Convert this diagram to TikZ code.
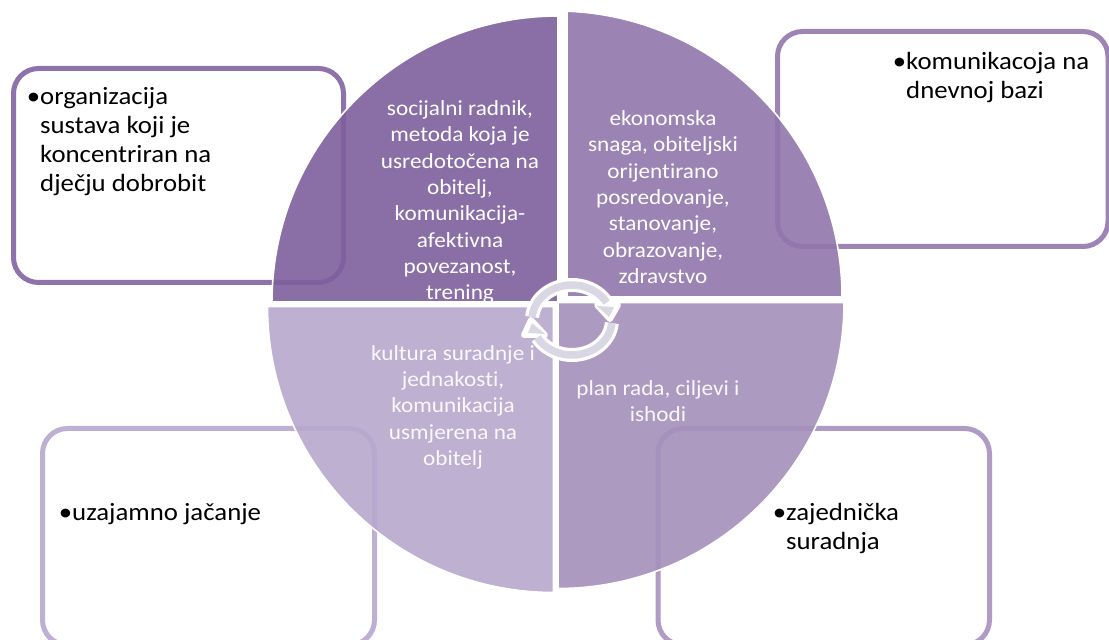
\documentclass[tikz,border=0pt]{standalone}
\usepackage{fontspec}
\setmainfont[FakeStretch=1.08,Ligatures=NoCommon]{Carlito}
\definecolor{boxa}{HTML}{8E73AB}
\definecolor{boxb}{HTML}{9D84B5}
\definecolor{boxc}{HTML}{BEB0D2}
\definecolor{boxd}{HTML}{AF9BC4}
\definecolor{pa}{HTML}{7E609E}
\definecolor{pb}{HTML}{9176AC}
\definecolor{pc}{HTML}{B7A8CD}
\definecolor{pd}{HTML}{A590BB}
\definecolor{ringgray}{HTML}{DAD7E5}
\tikzset{
  panel/.style={draw=#1,line width=5pt,rounded corners=25pt,fill=white},
  sector/.style={fill=#1,fill opacity=.9,draw=white,line width=1.6pt},
  inner/.style={text=white,inner sep=0pt,align=center,anchor=north,font=\fontsize{21.5}{26.3}\selectfont},
  outer/.style={text=black,inner sep=0pt,align=left,anchor=north west,font=\fontsize{24.8}{29}\selectfont},
  ringhalo/.style={draw=white,line width=14pt,line join=round},
  ringband/.style={draw=ringgray,line width=7.5pt},
  headhalo/.style={fill=white,draw=white,line width=6pt,line join=round},
  headfill/.style={fill=ringgray}
}
\begin{document}
\begin{tikzpicture}[x=1pt,y=1pt]
\useasboundingbox (0,0) rectangle (1109,640);
\clip (0,0) rectangle (1109,640);
\fill[white] (0,0) rectangle (1109,640);
% boxes
\draw[panel=boxa] (13.5,571.5) rectangle (343.5,357.5);
\draw[panel=boxb] (777.5,608.5) rectangle (1108,393.5);
\draw[panel=boxc] (42.5,211.5) rectangle (374.5,-5);
\draw[panel=boxd] (658,211.5) rectangle (989.5,-5);
% sectors
\path[sector=pa] (558,338) -- (272,338) arc[start angle=180,end angle=90,radius=286] -- cycle;
\path[sector=pb] (567,343) -- (567,628.8) arc[start angle=87.8,end angle=0,radius=286] -- cycle;
\path[sector=pc] (553.5,333.5) -- (267.5,333.5) arc[start angle=180,end angle=270,radius=286] -- cycle;
\path[sector=pd] (558,337.5) -- (558,51.5) arc[start angle=270,end angle=360,radius=286] -- cycle;
% sector texts
\begin{scope}
\clip (272,339) rectangle (558,640);
\node[inner] (ta) at (460,539.5) {socijalni radnik,\\metoda koja je\\usredotočena na\\obitelj,\\komunikacija-\\afektivna\\povezanost,\\trening};
\end{scope}
\node[inner] (tb) at (663,529.5) {ekonomska\\snaga, obiteljski\\orijentirano\\posredovanje,\\stanovanje,\\obrazovanje,\\zdravstvo};
\node[inner,text=white!92!pc] (tc) at (453,295) {kultura suradnje i\\jednakosti,\\komunikacija\\usmjerena na\\obitelj};
\node[inner,text=white!92!pd] (td) at (658,260) {plan rada, ciljevi i\\ishodi};
% box texts
\node[outer] (ba) at (40,552.5) {\llap{•}organizacija\\sustava koji je\\koncentriran na\\dječju dobrobit};
\node[outer] (bb) at (906,588) {\llap{•}komunikacoja na\\dnevnoj bazi};
\node[outer] (bc) at (72,137) {\llap{•}uzajamno jačanje};
\node[outer] (bd) at (786,137) {\llap{•}zajednička\\suradnja};
% ring
\path[headhalo] (597,335) -- (618,335) -- (610,321) -- cycle;
\path[headhalo] (545,305) -- (524,305) -- (531,320) -- cycle;
\draw[ringhalo] (572,320) ++(175:40 and 35) arc[start angle=175,end angle=30,x radius=40,y radius=35];
\draw[ringhalo] (572,320) ++(-5:40 and 35) arc[start angle=-5,end angle=-150,x radius=40,y radius=35];
\draw[ringband] (572,320) ++(175:40 and 35) arc[start angle=175,end angle=30,x radius=40,y radius=35];
\draw[ringband] (572,320) ++(-5:40 and 35) arc[start angle=-5,end angle=-150,x radius=40,y radius=35];
\path[headfill] (597,334) -- (614,333) -- (609,323) -- cycle;
\path[headfill] (545,306) -- (528,307) -- (532,317) -- cycle;
\end{tikzpicture}
\end{document}
